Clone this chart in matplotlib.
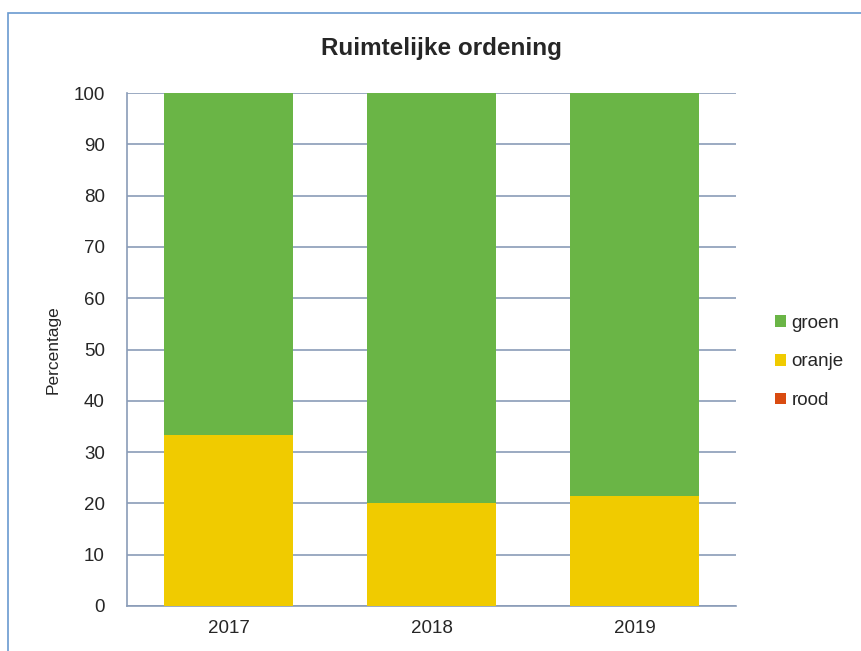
import matplotlib

matplotlib.use("Agg")
import matplotlib.pyplot as plt
from matplotlib.patches import Rectangle

plt.rcParams["font.family"] = ["Liberation Sans", "DejaVu Sans"]

years = ["2017", "2018", "2019"]
rood = [0.0, 0.0, 0.0]
oranje = [33.3, 20.0, 21.4]
groen = [66.7, 80.0, 78.6]

GREEN = "#6ab546"
YELLOW = "#f0cb00"
RED = "#d94b10"
GRID = "#8a9cb8"
TEXT = "#262626"

fig = plt.figure(figsize=(8.62, 6.51), dpi=100)
ax = fig.add_axes([127 / 862, 45 / 651, 609 / 862, 513 / 651])

# outer frame of the chart area (cropped at right/bottom)
fig.patches.append(Rectangle((8 / 862, -0.05), 1.1, (651 - 13) / 651 + 0.05,
                             transform=fig.transFigure, fill=False,
                             edgecolor="#6a9ad0", linewidth=1.2))

x = range(len(years))
w = 0.64
ax.bar(x, rood, w, color=RED, label="rood", zorder=3)
ax.bar(x, oranje, w, bottom=rood, color=YELLOW, label="oranje", zorder=3)
bottom2 = [r + o for r, o in zip(rood, oranje)]
ax.bar(x, groen, w, bottom=bottom2, color=GREEN, label="groen", zorder=3)

ax.set_xlim(-0.5, 2.5)
ax.set_ylim(0, 100)
ax.set_yticks(range(0, 101, 10))
ax.set_xticks(list(x))
ax.set_xticklabels(years)
ax.yaxis.grid(True, color=GRID, linewidth=1.2, zorder=0)
ax.set_axisbelow(True)
for s in ["top", "right"]:
    ax.spines[s].set_visible(False)
ax.spines["left"].set_color(GRID)
ax.spines["bottom"].set_color(GRID)
ax.spines["left"].set_linewidth(1.2)
ax.spines["bottom"].set_linewidth(1.2)
ax.tick_params(axis="y", length=0, labelsize=13.5, pad=16, labelcolor=TEXT)
ax.tick_params(axis="x", length=0, labelsize=13.5, pad=10, labelcolor=TEXT)
ax.set_ylabel("Percentage", fontsize=12.5, labelpad=9, color=TEXT)

fig.text(441 / 862, 1 - 48 / 651, "Ruimtelijke ordening", ha="center", va="center",
         fontsize=17.5, fontweight="bold", color=TEXT)

handles, labels = ax.get_legend_handles_labels()
fig.legend(handles[::-1], labels[::-1], loc="center left",
           bbox_to_anchor=(758 / 862, 1 - 362 / 651), frameon=False,
           fontsize=13.5, handlelength=0.6, handleheight=0.6, handletextpad=0.3,
           labelspacing=1.15, labelcolor=TEXT)

fig.savefig("out.png", dpi=100)
